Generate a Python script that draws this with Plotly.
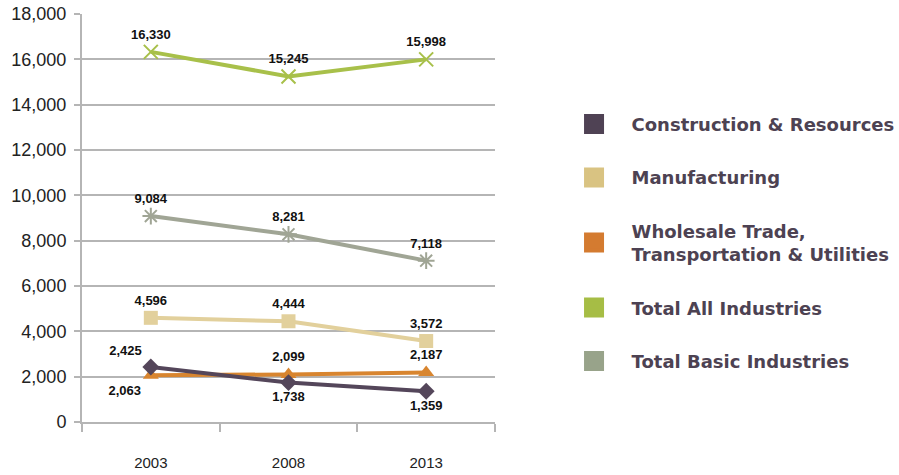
import plotly.graph_objects as go

years = ["2003", "2008", "2013"]
construction = [2425, 1738, 1359]
manufacturing = [4596, 4444, 3572]
wholesale = [2063, 2099, 2187]
total_all = [16330, 15245, 15998]
total_basic = [9084, 8281, 7118]

names = ["Construction & Resources", "Manufacturing",
         "Wholesale Trade,<br>Transportation & Utilities",
         "Total All Industries", "Total Basic Industries"]
legend_colors = ["#4f4254", "#d9c382", "#d47b30", "#a6bd45", "#98a38a"]

def fmt(v):
    return [f"{x:,}" for x in v]

fig = go.Figure()

series = [
    (total_all, "#a8c04a", dict(symbol="x-thin-open", size=14, line=dict(width=2, color="#a8c04a")),
     ["top center"] * 3),
    (total_basic, "#a0a595", dict(symbol="asterisk-open", size=14, line=dict(width=2, color="#a0a595")),
     ["top center"] * 3),
    (manufacturing, "#e2d09c", dict(symbol="square", size=14, color="#e2d09c"),
     ["top center"] * 3),
    (wholesale, "#d8852f", dict(symbol="triangle-up", size=14, color="#d8852f"),
     ["bottom left", "top center", "top center"]),
    (construction, "#54465a", dict(symbol="diamond", size=13, color="#54465a"),
     ["top left", "bottom center", "bottom center"]),
]
for vals, col, mk, pos in series:
    fig.add_trace(go.Scatter(
        x=years, y=vals, mode="lines+markers+text", line=dict(color=col, width=4),
        marker=mk, text=fmt(vals), textposition=pos,
        textfont=dict(family="Liberation Sans, Arial", size=13, color="#111111", weight="bold"),
        showlegend=False, cliponaxis=False))

for i, (n, c) in enumerate(zip(names, legend_colors)):
    fig.add_trace(go.Scatter(
        x=[None], y=[None], mode="markers", name=n, legendgroup=f"g{i}",
        marker=dict(symbol="square", size=16, color=c, line=dict(width=4, color=c)),
        showlegend=True))

fig.update_layout(
    width=899, height=475,
    margin=dict(l=82, r=404, t=14, b=53, autoexpand=False),
    paper_bgcolor="white", plot_bgcolor="white",
    font=dict(family="Liberation Sans, Arial", color="#222222"),
    legend=dict(x=1.149, xanchor="left", y=0.775, yanchor="top",
                font=dict(family="DejaVu Sans", size=18, color="#4d4252", weight="bold"),
                tracegroupgap=27, itemsizing="trace", itemwidth=65, bgcolor="rgba(0,0,0,0)"),
    xaxis=dict(type="category", range=[-0.5, 2.5], showline=True, linecolor="#b5b5b5", linewidth=2,
               ticks="outside", tickson="boundaries", ticklen=8, tickcolor="#b5b5b5", tickwidth=2,
               showgrid=False, tickfont=dict(size=15, color="#222222"), ticklabelstandoff=26),
    yaxis=dict(range=[0, 18000], dtick=2000, tickformat=",", showline=True, linecolor="#b5b5b5",
               linewidth=2, gridcolor="#b5b5b5", gridwidth=2, ticks="outside", ticklen=6,
               tickcolor="#b5b5b5", tickwidth=2, zeroline=False,
               tickfont=dict(size=18, color="#222222"), ticklabelstandoff=4),
)
fig.write_html("out.html", config={"displayModeBar": False},
               post_script="document.body.style.margin='0';")
